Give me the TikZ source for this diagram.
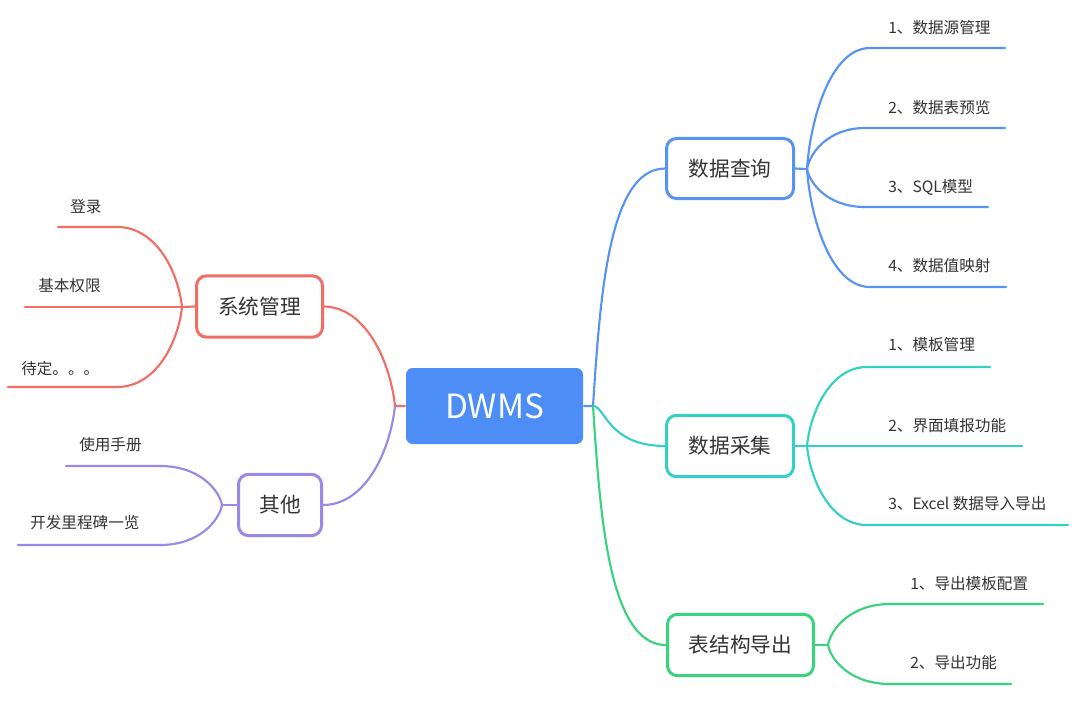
\documentclass[tikz,border=0pt]{standalone}
\usepackage{fontspec}
\setmainfont{Noto Sans CJK SC}
\usetikzlibrary{calc}
\definecolor{cblue}{HTML}{5793F0}
\definecolor{cfill}{HTML}{4C8DF6}
\definecolor{cteal}{HTML}{33D0C6}
\definecolor{cgreen}{HTML}{3BD27D}
\definecolor{cred}{HTML}{F26D63}
\definecolor{cpurple}{HTML}{9A87E6}
\definecolor{ctext}{HTML}{333333}
\newcommand\leafpath[2]{let \p1=(#1), \p2=(#2) in .. controls ({\x1+0.63*(\x2-\x1)},\y1) and ({\x2-0.05*(\x2-\x1)},{\y2+0.4*(\y1-\y2)}) .. (#2)}
\tikzset{
  branchbox/.style={draw, line width=2.25pt, rounded corners=7.5pt, fill=white, inner sep=0pt,
    text=ctext, font=\fontsize{15.5pt}{18pt}\selectfont, minimum height=46pt},
  leaftext/.style={anchor=west, inner sep=0pt, text=ctext, font=\fontsize{11.7pt}{13pt}\selectfont},
  leafline/.style={line width=1.6pt, line cap=round},
  conn/.style={line width=1.6pt}
}
\begin{document}
\begin{tikzpicture}[x=0.75pt, y=-0.75pt]
\useasboundingbox[fill=white] (0,0) rectangle (1080,706);

% central
\node[fill=cfill, rounded corners=5pt, minimum width=132.75pt, minimum height=57pt, inner sep=0pt,
  text=white, font=\fontsize{25pt}{28pt}\selectfont] (c) at (494.5,406) {DWMS};
\coordinate (rf) at (593,406);
\coordinate (lf) at (395,406);

% branch boxes
\node[branchbox, draw=cred, minimum width=94.5pt] (sys) at (259.5,306.5) {系统管理};
\node[branchbox, draw=cpurple, minimum width=62.25pt] (oth) at (280,505) {其他};
\node[branchbox, draw=cblue, minimum width=95.25pt, minimum height=45pt] (qry) at (730,168.5) {数据查询};
\node[branchbox, draw=cteal, minimum width=95.25pt] (col) at (730,446) {数据采集};
\node[branchbox, draw=cgreen, minimum width=109.5pt] (exp) at (740.5,645) {表结构导出};

% central connectors
\draw[conn, cred] (c.west) -- (lf) .. controls (390,360) and (365,307) .. (sys.east);
\draw[conn, cpurple] (lf) .. controls (390,452) and (365,505) .. (oth.east);
\draw[conn, cblue] (c.east) -- (rf) .. controls (600,300) and (608,168.5) .. (qry.west);
\draw[conn, cteal] (rf) .. controls (605,406) and (608,446) .. (col.west);
\draw[conn, cgreen] (rf) .. controls (600,512) and (608,645) .. (exp.west);

% ---------- 系统管理 ----------
\coordinate (fs) at (182,307);
\draw[leafline, cred] (sys.west) -- (fs);
\node[leaftext] (s1) at (70,207) {登录};
\node[leaftext] (s2) at (38,286) {基本权限};
\node[leaftext] (s3) at (21,369) {待定。。。};
\coordinate (s1a) at (58,227); \coordinate (s1e) at (117,227);
\coordinate (s2a) at (25,307);
\coordinate (s3a) at (8,387); \coordinate (s3e) at (117,387);
\draw[leafline, cred] (s1a) -- (s1e) \leafpath{s1e}{fs};
\draw[leafline, cred] (s2a) -- (fs);
\draw[leafline, cred] (s3a) -- (s3e) \leafpath{s3e}{fs};

% ---------- 其他 ----------
\coordinate (fo) at (222,505);
\draw[leafline, cpurple] (oth.west) -- (fo);
\node[leaftext] (o1) at (79,445) {使用手册};
\node[leaftext] (o2) at (30,523) {开发里程碑一览};
\coordinate (o1a) at (66,466); \coordinate (o1e) at (160,466);
\coordinate (o2a) at (18,545); \coordinate (o2e) at (160,545);
\draw[leafline, cpurple] (o1a) -- (o1e) \leafpath{o1e}{fo};
\draw[leafline, cpurple] (o2a) -- (o2e) \leafpath{o2e}{fo};

% ---------- 数据查询 ----------
\coordinate (fq) at (807,169);
\draw[leafline, cblue] (qry.east) -- (fq);
\node[leaftext] (q1) at (888,28) {1、数据源管理};
\node[leaftext] (q2) at (888,108) {2、数据表预览};
\node[leaftext] (q3) at (888,187) {3、SQL模型};
\node[leaftext] (q4) at (888,266) {4、数据值映射};
\coordinate (q1a) at (1005,48); \coordinate (q1e) at (870,48);
\coordinate (q2a) at (1005,128); \coordinate (q2e) at (865,128);
\coordinate (q3a) at (988,207); \coordinate (q3e) at (865,207);
\coordinate (q4a) at (1006,287); \coordinate (q4e) at (870,287);
\draw[leafline, cblue] (q1a) -- (q1e) \leafpath{q1e}{fq};
\draw[leafline, cblue] (q2a) -- (q2e) \leafpath{q2e}{fq};
\draw[leafline, cblue] (q3a) -- (q3e) \leafpath{q3e}{fq};
\draw[leafline, cblue] (q4a) -- (q4e) \leafpath{q4e}{fq};

% ---------- 数据采集 ----------
\coordinate (fc) at (807,446);
\draw[leafline, cteal] (col.east) -- (fc);
\node[leaftext] (c1) at (888,345) {1、模板管理};
\node[leaftext] (c2) at (888,426) {2、界面填报功能};
\node[leaftext] (c3) at (888,504) {3、Excel 数据导入导出};
\coordinate (c1a) at (990,367); \coordinate (c1e) at (867,367);
\coordinate (c2a) at (1022,446);
\coordinate (c3a) at (1068,525); \coordinate (c3e) at (867,525);
\draw[leafline, cteal] (c1a) -- (c1e) \leafpath{c1e}{fc};
\draw[leafline, cteal] (c2a) -- (fc);
\draw[leafline, cteal] (c3a) -- (c3e) \leafpath{c3e}{fc};

% ---------- 表结构导出 ----------
\coordinate (fe) at (828,645);
\draw[leafline, cgreen] (exp.east) -- (fe);
\node[leaftext] (e1) at (910,584) {1、导出模板配置};
\node[leaftext] (e2) at (910,663) {2、导出功能};
\coordinate (e1a) at (1043,604); \coordinate (e1e) at (890,604);
\coordinate (e2a) at (1011,684); \coordinate (e2e) at (890,684);
\draw[leafline, cgreen] (e1a) -- (e1e) \leafpath{e1e}{fe};
\draw[leafline, cgreen] (e2a) -- (e2e) \leafpath{e2e}{fe};
\end{tikzpicture}
\end{document}
